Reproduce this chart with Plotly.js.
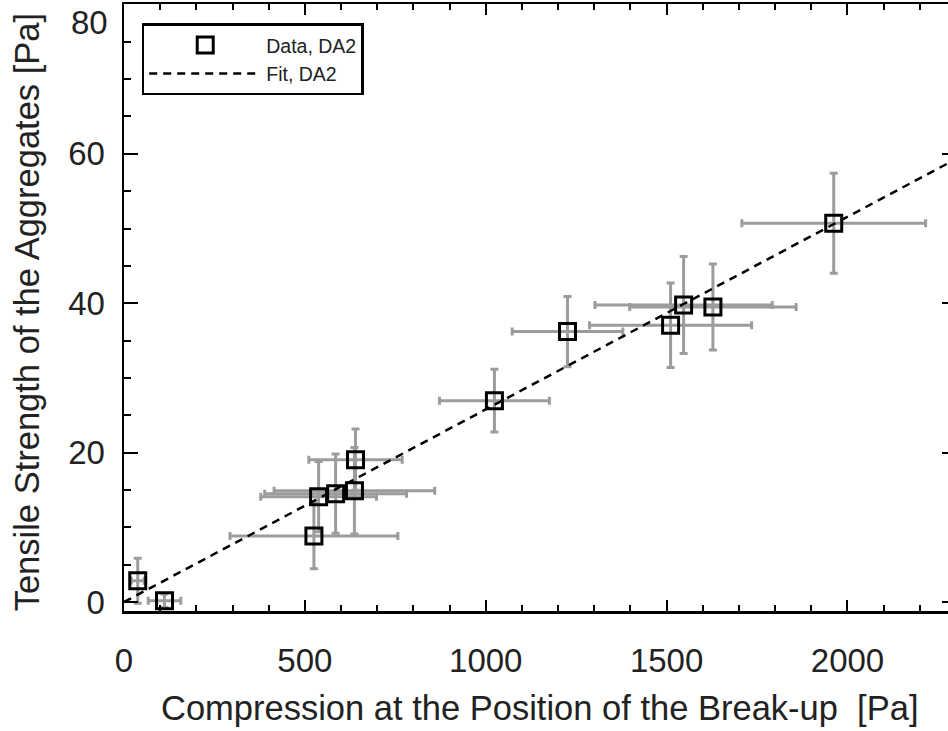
<!DOCTYPE html>
<html>
<head>
<meta charset="utf-8">
<script src="https://cdn.plot.ly/plotly-3.0.1.min.js"></script>
<style>
html, body { margin: 0; padding: 0; background: #fff; overflow: hidden; width: 948px; height: 731px; }
#plot { width: 960px; height: 731px; }
</style>
</head>
<body>
<div id="plot"></div>
<script>
// Data
const compression = [38, 112, 525, 538, 585, 637, 640, 1024, 1226, 1511, 1547, 1628, 1962];
const tensile     = [2.85, 0.17, 8.84, 14.1, 14.5, 14.9, 19.05, 26.95, 36.2, 37.05, 39.76, 39.5, 50.7];
const compressionErr = [18, 45, 232, 160, 196, 222, 129, 152, 153, 224, 245, 230, 254];
const tensileErr     = [3.0, 0.9, 4.4, 4.7, 5.3, 5.8, 4.1, 4.2, 4.7, 5.65, 6.5, 5.75, 6.7];
const fitX = [0, 2300];
const fitY = [0, 59.3];
const xTitle = "Compression at the Position of the Break-up\u00a0\u00a0[Pa]";
const yTitle = "Tensile Strength of the Aggregates\u00a0[Pa]";
const yTopLabel = "80";   // top y tick label, drawn nudged inside the figure as in the reference
const yTopValue = 80;

const FONT = "Liberation Sans, Arial, Helvetica, sans-serif";
const errStyle = { type: 'data', color: '#9c9c9c', thickness: 3, width: 4 };

const data = [
  {
    x: compression, y: tensile, type: 'scatter', mode: 'markers', name: 'Data, DA2',
    marker: { symbol: 'square-open', size: 16, color: '#000', line: { width: 3, color: '#000' } },
    error_x: Object.assign({ array: compressionErr }, errStyle),
    error_y: Object.assign({ array: tensileErr }, errStyle)
  },
  {
    x: fitX, y: fitY, type: 'scatter', mode: 'lines', name: 'Fit, DA2',
    line: { color: '#000', width: 2.5, dash: '8px,6px' }
  }
];

const axisCommon = {
  showgrid: false, zeroline: false,
  showline: true, linecolor: '#000', linewidth: 2.5, mirror: 'allticks',
  ticks: 'inside', tickcolor: '#000', tickwidth: 2,
  tickfont: { family: FONT, size: 33, color: '#222' }
};

const layout = {
  width: 960, height: 731,
  margin: { l: 124, r: 4, t: 4, b: 120 },
  paper_bgcolor: '#fff', plot_bgcolor: '#fff',
  font: { family: FONT, color: '#222' },
  showlegend: true,
  legend: {
    x: 0.0213, y: 0.968, xanchor: 'left', yanchor: 'top',
    bgcolor: '#fff', bordercolor: '#000', borderwidth: 2.5,
    font: { family: FONT, size: 19.5, color: '#222' },
    itemwidth: 112, tracegroupgap: 0
  },
  xaxis: Object.assign({}, axisCommon, {
    range: [0, 2300], tick0: 0, dtick: 500, ticklen: 11,
    minor: { dtick: 100, ticks: 'inside', ticklen: 6, tickwidth: 2, tickcolor: '#000' },
    ticklabelstandoff: 19
  }),
  yaxis: Object.assign({}, axisCommon, {
    range: [-1.2, 80.05], tick0: 0, dtick: 20, ticklen: 14,
    minor: { dtick: 5, ticks: 'inside', ticklen: 7, tickwidth: 2, tickcolor: '#000' },
    ticklabelstandoff: 10
  }),
  annotations: [
    { text: xTitle, xref: 'paper', yref: 'paper', x: 0.4994, y: -0.1598,
      xanchor: 'center', yanchor: 'middle', showarrow: false,
      font: { family: FONT, size: 34.5, color: '#222' } },
    { text: yTitle, xref: 'paper', yref: 'paper', x: -0.1166, y: 0.492, textangle: -90,
      xanchor: 'center', yanchor: 'middle', showarrow: false,
      font: { family: FONT, size: 34.5, color: '#222' } },
    { text: yTopLabel, xref: 'paper', yref: 'y', x: -0.0168, y: yTopValue, yshift: -18,
      xanchor: 'right', yanchor: 'middle', showarrow: false,
      font: { family: FONT, size: 33, color: '#222' } }
  ]
};

Plotly.newPlot('plot', data, layout, { displayModeBar: false, staticPlot: true });
</script>
</body>
</html>
